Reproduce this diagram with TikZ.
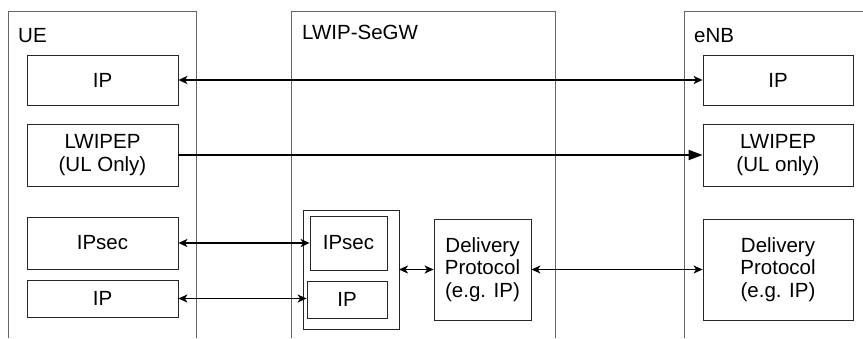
\documentclass[tikz,border=0pt]{standalone}
\usepackage{fontspec}
\setmainfont{Liberation Sans}
\usetikzlibrary{arrows.meta}
\begin{document}
\begin{tikzpicture}[x=1pt,y=-1pt,
  box/.style={draw=black!85,line width=0.8pt,inner sep=0pt,align=center,font=\fontsize{20.5}{22.5}\selectfont},
  frame/.style={draw=black!60,line width=0.9pt},
  lbl/.style={anchor=base west,inner sep=0pt,font=\fontsize{20.5}{22.5}\selectfont},
  conn/.style={line width=1.8pt,{Stealth[length=9pt,width=8pt,inset=2.5pt]}-{Stealth[length=9pt,width=8pt,inset=2.5pt]}},
  uni/.style={line width=1.8pt,-{Triangle[length=14pt,width=10pt]}}]
\useasboundingbox (0,0) rectangle (863,338);
% outer frames
\draw[frame] (8,338) -- (8,11) -- (196,11) -- (196,338);
\draw[frame] (291,338) -- (291,11) -- (555,11) -- (555,338);
\draw[frame] (684,338) -- (684,11) -- (863,11);
\node[lbl] (lue) at (18,42) {UE};
\node[lbl] (lsegw) at (302,39) {LWIP-SeGW};
\node[lbl] (lenb) at (694,42) {eNB};
% UE
\node[box,minimum width=151pt,minimum height=50pt] (ueip) at (102.5,80) {IP};
\node[box,minimum width=151pt,minimum height=62pt] (uelw) at (102.5,155) {LWIPEP\\(UL Only)};
\node[box,minimum width=151pt,minimum height=52pt] (ueipsec) at (102.5,243) {IPsec};
\node[box,minimum width=151pt,minimum height=37pt] (ueip2) at (102.5,298.5) {IP};
% SeGW
\draw[draw=black!85,line width=0.8pt] (303,210) rectangle (399,329);
\coordinate (segwc) at (399,269.5);
\node[box,minimum width=77pt,minimum height=54pt] (sgipsec) at (348.5,243) {IPsec};
\node[box,minimum width=80pt,minimum height=37pt] (sgip) at (347,299.5) {IP};
\node[box,minimum width=97pt,minimum height=101pt] (sgdp) at (482.5,269.5) {Delivery\\Protocol\\(e.g. IP)};
% eNB
\node[box,minimum width=150pt,minimum height=50pt] (enbip) at (778,80) {IP};
\node[box,minimum width=150pt,minimum height=62pt] (enblw) at (778,155) {LWIPEP\\(UL only)};
\node[box,minimum width=150pt,minimum height=101pt] (enbdp) at (778,269.5) {Delivery\\Protocol\\(e.g. IP)};
% connectors
\draw[conn] (ueip.east) -- (enbip.west);
\draw[uni] (uelw.east) -- (enblw.west);
\draw[conn] (ueipsec.east) -- (ueipsec.east -| sgipsec.west);
\draw[conn] (ueip2.east) -- (ueip2.east -| sgip.west);
\draw[conn] (segwc) -- (sgdp.west);
\draw[conn] (sgdp.east) -- (enbdp.west);
\end{tikzpicture}
\end{document}
